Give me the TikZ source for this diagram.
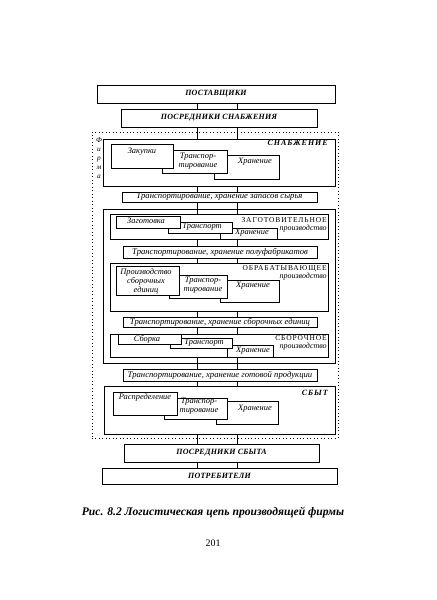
\documentclass[tikz,border=0pt]{standalone}
\usepackage{fontspec}
\setmainfont{Liberation Serif}
\newfontfamily\capsfont[LetterSpace=12]{Liberation Serif}
\newfontfamily\headfont[LetterSpace=3]{Liberation Serif}
\usetikzlibrary{fit}

\tikzset{
  head/.style={draw, line width=0.65pt, inner sep=0pt},
  headtxt/.style={inner sep=0.75pt, font=\headfont\bfseries\itshape\fontsize{6}{7}\selectfont},
  band/.style={draw, line width=0.6pt, inner sep=0pt},
  bandtxt/.style={inner sep=0.75pt, font=\itshape\fontsize{6.5}{7.5}\selectfont},
  stage/.style={draw, line width=0.6pt, inner sep=0pt},
  card/.style={draw, fill=white, line width=0.55pt, inner sep=0pt},
  cardtxt/.style={inner sep=0.75pt, align=center, font=\itshape\fontsize{6.3}{6.8}\selectfont},
  stagetxt/.style={anchor=east, inner sep=0.75pt, font=\capsfont\fontsize{5.6}{6.5}\selectfont},
  prodtxt/.style={anchor=east, inner sep=0.75pt, font=\itshape\fontsize{6}{7}\selectfont},
  firmbox/.style={draw, dotted, line width=0.6pt, inner sep=0pt},
  firmtxt/.style={inner sep=0.75pt, align=center, font=\itshape\fontsize{5.5}{6.8}\selectfont},
  link/.style={line width=0.55pt}
}

\begin{document}
\begin{tikzpicture}[x=0.75pt,y=0.75pt,yscale=-1,xscale=1]
\useasboundingbox (0,0) rectangle (436,600);

% x of the two link lines
\coordinate (lx) at (197,0);
\coordinate (rx) at (237,0);

% Suppliers side
\node[head, fit={(97,85) (335,103)}, label={[headtxt]center:ПОСТАВЩИКИ}] (post) {};
\node[head, fit={(121,109) (317,127)}, label={[headtxt]center:ПОСРЕДНИКИ СНАБЖЕНИЯ}] (psn) {};

% Firm frame
\node[firmbox, fit={(92,132) (338,438)}] (firm) {};
\node[firmtxt] (firmlbl) at (99,158) {Ф\\и\\р\\м\\а};

% Supply
\node[stage, fit={(103,139) (335,186)}] (snab) {};
\node[stagetxt, font=\capsfont\bfseries\itshape\fontsize{6}{7}\selectfont] (snablbl) at (329,143) {СНАБЖЕНИЕ};
\node[card, fit={(214,155) (279,179)}] (xr1) {};
\node[card, fit={(162,150) (227,173)}] (tr1) {};
\node[card, fit={(111,144) (173,168)}] (zak) {};
\node[cardtxt] (zakt) at (142,152) {Закупки};
\node[cardtxt] (tr1t) at (198,161) {Транспор-\\тирование};
\node[cardtxt] (xr1t) at (255,162) {Хранение};

\node[band, fit={(122,192) (317,202)}, label={[bandtxt]center:{Транспортирование, хранение запасов сырья}}] (zs) {};

% Production
\node[stage, fit={(103,209) (335,363)}] (prod) {};

% Procurement stage
\node[stage, fit={(110,214) (328,239)}] (zag) {};
\node[stagetxt] (zaglbl) at (328,220) {ЗАГОТОВИТЕЛЬНОЕ};
\node[prodtxt] (zagpr) at (328,229) {производство};
\node[card, fit={(220,228) (277,239)}] (xr2) {};
\node[card, fit={(168,222) (232,233)}] (tr2) {};
\node[card, fit={(116,216) (180,228)}] (zgt) {};
\node[cardtxt] (zgtt) at (146,221) {Заготовка};
\node[cardtxt] (tr2t) at (202,227) {Транспорт};
\node[cardtxt] (xr2t) at (252,233) {Хранение};

\node[band, fit={(123,246) (317,258)}, label={[bandtxt]center:{Транспортирование, хранение полуфабрикатов}}] (pf) {};

% Processing stage
\node[stage, fit={(110,263) (328,311)}] (obr) {};
\node[stagetxt] (obrlbl) at (328,269) {ОБРАБАТЫВАЮЩЕЕ};
\node[prodtxt] (obrpr) at (328,277) {производство};
\node[card, fit={(220,280) (279,302)}] (xr3) {};
\node[card, fit={(169,275) (227,298)}] (tr3) {};
\node[card, fit={(116,266) (179,295)}] (pse) {};
\node[cardtxt] (pset) at (146,281) {Производство\\сборочных\\единиц};
\node[cardtxt] (tr3t) at (203,285) {Транспор-\\тирование};
\node[cardtxt] (xr3t) at (253,286) {Хранение};

\node[band, fit={(123,317) (317,327)}, label={[bandtxt]center:{Транспортирование, хранение сборочных единиц}}] (se) {};

% Assembly stage
\node[stage, fit={(110,334) (328,357)}] (sb) {};
\node[stagetxt] (sblbl) at (328,338) {СБОРОЧНОЕ};
\node[prodtxt] (sbpr) at (328,347) {производство};
\node[card, fit={(227,345) (273,357)}] (xr4) {};
\node[card, fit={(170,338) (232,348)}] (tr4) {};
\node[card, fit={(118,334) (181,344)}] (sbk) {};
\node[cardtxt] (sbkt) at (147,339) {Сборка};
\node[cardtxt] (tr4t) at (204,343) {Транспорт};
\node[cardtxt] (xr4t) at (253,351) {Хранение};

\node[band, fit={(123,369) (317,381)}, label={[bandtxt]center:{Транспортирование, хранение готовой продукции}}] (gp) {};

% Sales
\node[stage, fit={(104,386) (335,434)}] (sbyt) {};
\node[stagetxt, font=\capsfont\bfseries\itshape\fontsize{6}{7}\selectfont] (sbytlbl) at (329,393) {СБЫТ};
\node[card, fit={(216,401) (278,424)}] (xr5) {};
\node[card, fit={(164,398) (227,419)}] (tr5) {};
\node[card, fit={(113,392) (177,415)}] (rsp) {};
\node[cardtxt] (rspt) at (145,397) {Распределение};
\node[cardtxt] (tr5t) at (199,406) {Транспор-\\тирование};
\node[cardtxt] (xr5t) at (255,409) {Хранение};

% Customers side
\node[head, fit={(124,444) (319,462)}, label={[headtxt]center:ПОСРЕДНИКИ СБЫТА}] (ps) {};
\node[head, fit={(102,468) (337,484)}, label={[headtxt]center:ПОТРЕБИТЕЛИ}] (potr) {};

% Links
\foreach \a/\b in {post.south/psn.north, psn.south/snab.north, snab.south/zs.north,
    zs.south/prod.north, prod.north/zag.north, zag.south/pf.north, pf.south/obr.north,
    obr.south/se.north, se.south/sb.north, sb.south/prod.south, prod.south/gp.north,
    gp.south/sbyt.north, sbyt.south/ps.north, ps.south/potr.north}
  \foreach \c in {lx,rx}
    \draw[link] (\c |- \a) -- (\c |- \b);

% Caption
\node[inner sep=0.75pt, font=\bfseries\itshape\fontsize{8.7}{10}\selectfont] (cap) at (213,513) {Рис. 8.2 Логистическая цепь производящей фирмы};
\node[inner sep=0.75pt, font=\fontsize{7.5}{9}\selectfont] (page) at (213,543) {201};

\end{tikzpicture}
\end{document}
